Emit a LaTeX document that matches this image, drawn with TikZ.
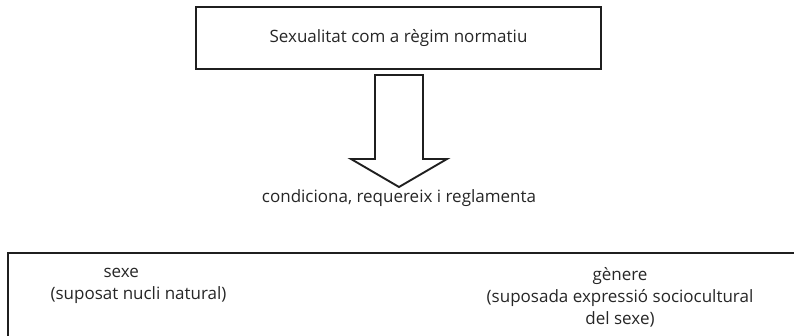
\documentclass[tikz,border=0pt]{standalone}
\usepackage{fontspec}
\setmainfont{Open Sans}
\usetikzlibrary{positioning}

\begin{document}
\begin{tikzpicture}[
  x=1pt, y=-1pt,
  box/.style={draw=black!88, line width=1.9pt},
  lbl/.style={font=\fontsize{17}{22}\selectfont, text=black!85}
  ]
\useasboundingbox (0,0) rectangle (794,336);
\clip (0,0) rectangle (794,336);
% top box
\node [box, lbl, minimum width=405pt, minimum height=62pt] (regim) at (398.5,38) {Sexualitat com a règim normatiu};
% block arrow
\coordinate (tip) at (399,187);
\draw [box, line join=miter] (375,75) -- (423,75) -- (423,159) -- (447,159) -- (tip) -- (351,159) -- (375,159) -- cycle;
\node [lbl] (cond) at (399,198) {condiciona, requereix i reglamenta};
% bottom box (runs past the page)
\node [box, anchor=north west, minimum width=820pt, minimum height=120pt] (bloc) at (7,252) {};
\node [lbl, align=left] (sexe) at (138.5,286) {\hspace{53pt}sexe\\(suposat nucli natural)};
\node [lbl, align=center] (genere) at (620,297) {gènere\\(suposada expressió sociocultural\\del sexe)};
\end{tikzpicture}
\end{document}
